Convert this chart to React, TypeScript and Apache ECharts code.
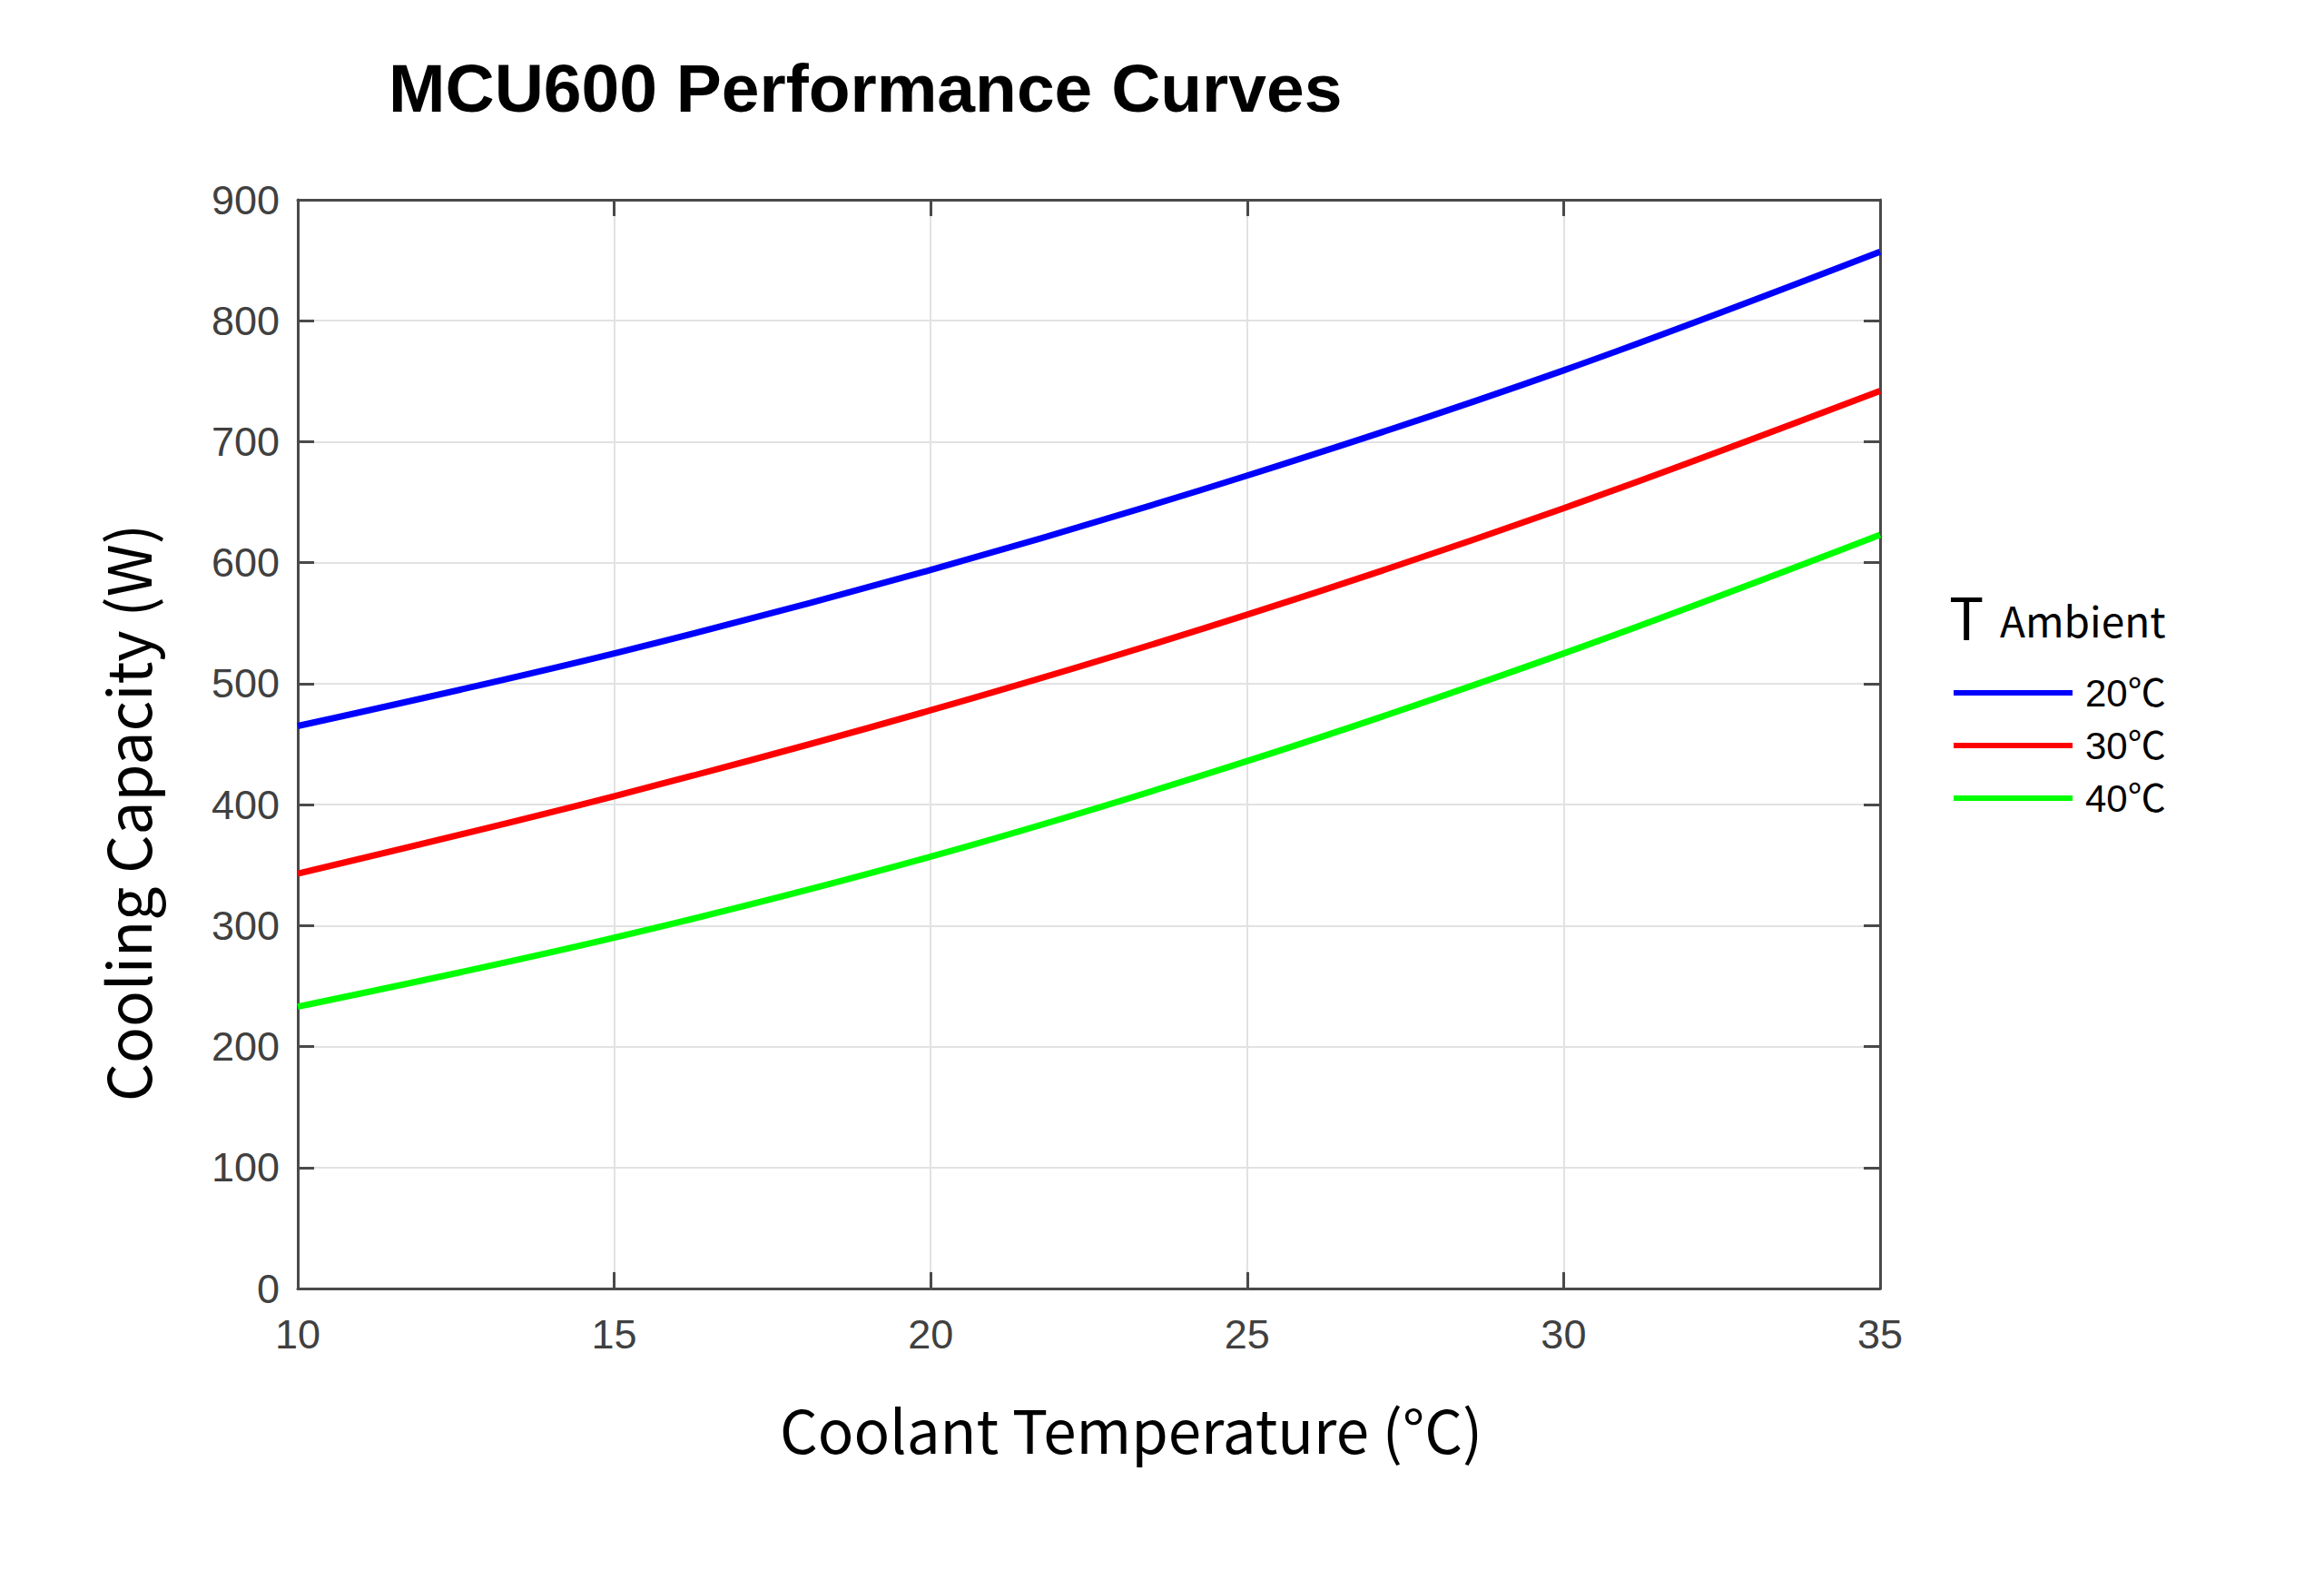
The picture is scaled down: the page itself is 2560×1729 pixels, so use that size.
import React, { useEffect, useRef } from "react";
import * as echarts from "echarts";

const coolantTemps = [10, 15, 20, 25, 30, 35];
const seriesNames = ["20℃", "30℃", "40℃"];
const ambient20 = [465, 525, 594, 672, 759, 857];
const ambient30 = [343, 407, 478, 557, 645, 742];
const ambient40 = [233, 290, 357, 436, 525, 623];
const seriesColors = ["#0000ff", "#ff0000", "#00ff00"];
const titleText = "MCU600 Performance Curves";
const xName = "Coolant Temperature (°C)";
const yName = "Cooling Capacity (W)";

const AXIS = "#4a4a4a";
const GRID = "#e2e2e2";
const LABEL = "#404040";

export default function App() {
  const ref = useRef<HTMLDivElement>(null);
  useEffect(() => {
    if (!ref.current) return;
    const chart = echarts.init(ref.current, undefined, { renderer: "svg" });
    const values = [ambient20, ambient30, ambient40];
    const series = values.map((vals, i) => ({
      name: seriesNames[i],
      type: "line",
      data: coolantTemps.map((t, j) => [t, vals[j]]),
      smooth: 0.35,
      showSymbol: false,
      lineStyle: { color: seriesColors[i], width: 7 },
      itemStyle: { color: seriesColors[i] },
      z: 5,
    }));
    const baseX = {
      type: "value",
      min: 10,
      max: 35,
      interval: 5,
    };
    const baseY = {
      type: "value",
      min: 0,
      max: 900,
      interval: 100,
    };
    chart.setOption({
      animation: false,
      backgroundColor: "#ffffff",
      title: {
        text: titleText,
        left: 428,
        top: 59,
        padding: 0,
        textStyle: {
          fontFamily: "Liberation Sans",
          fontWeight: "bold",
          fontSize: 75,
          color: "#000000",
        },
      },
      grid: {
        left: 328,
        top: 220,
        right: 489,
        bottom: 310,
        show: false,
      },
      legend: {
        orient: "vertical",
        left: 2152,
        top: 741,
        padding: 0,
        itemWidth: 131,
        itemHeight: 6,
        itemGap: 14,
        icon: "rect",
        data: seriesNames,
        textStyle: {
          fontFamily: "Liberation Sans, Noto Sans CJK SC",
          fontSize: 42,
          lineHeight: 44,
          color: "#000000",
          padding: [0, 0, 0, 9],
        },
      },
      xAxis: [
        {
          ...baseX,
          position: "bottom",
          axisLine: { show: true, onZero: false, lineStyle: { color: AXIS, width: 3 } },
          axisTick: { show: true, inside: true, length: 18, lineStyle: { color: AXIS, width: 3 } },
          axisLabel: {
            margin: 28,
            fontFamily: "Liberation Sans",
            fontSize: 45,
            color: LABEL,
          },
          splitLine: { show: true, lineStyle: { color: GRID, width: 2 } },
        },
        {
          ...baseX,
          position: "top",
          axisLine: { show: true, onZero: false, lineStyle: { color: AXIS, width: 3 } },
          axisTick: { show: true, inside: true, length: 18, lineStyle: { color: AXIS, width: 3 } },
          axisLabel: { show: false },
          splitLine: { show: false },
        },
      ],
      yAxis: [
        {
          ...baseY,
          position: "left",
          axisLine: { show: true, onZero: false, lineStyle: { color: AXIS, width: 3 } },
          axisTick: { show: true, inside: true, length: 18, lineStyle: { color: AXIS, width: 3 } },
          axisLabel: {
            margin: 20,
            fontFamily: "Liberation Sans",
            fontSize: 45,
            color: LABEL,
          },
          splitLine: { show: true, lineStyle: { color: GRID, width: 2 } },
        },
        {
          ...baseY,
          position: "right",
          axisLine: { show: true, onZero: false, lineStyle: { color: AXIS, width: 3 } },
          axisTick: { show: true, inside: true, length: 18, lineStyle: { color: AXIS, width: 3 } },
          axisLabel: { show: false },
          splitLine: { show: false },
        },
      ],
      graphic: [
        {
          type: "text",
          x: 1246,
          y: 1572,
          style: {
            text: xName,
            fontFamily: "Noto Sans CJK SC",
            fontSize: 65.5,
            fill: "#000000",
            align: "center",
            verticalAlign: "middle",
          },
        },
        {
          type: "text",
          x: 138,
          y: 895,
          rotation: Math.PI / 2,
          style: {
            text: yName,
            fontFamily: "Noto Sans CJK SC",
            fontSize: 66,
            fill: "#000000",
            align: "center",
            verticalAlign: "middle",
          },
        },
        {
          type: "text",
          x: 2147,
          y: 677,
          style: {
            text: "T",
            fontFamily: "Noto Sans CJK SC",
            fontSize: 64,
            fill: "#000000",
            align: "left",
            verticalAlign: "middle",
          },
        },
        {
          type: "text",
          x: 2203,
          y: 682,
          style: {
            text: "Ambient",
            fontFamily: "Noto Sans CJK SC",
            fontSize: 46,
            fill: "#000000",
            align: "left",
            verticalAlign: "middle",
          },
        },
      ],
      series,
    });
    return () => chart.dispose();
  }, []);
  return (
    <div
      ref={ref}
      style={{ position: "fixed", left: 0, top: 0, width: 2560, height: 1729 }}
    />
  );
}
